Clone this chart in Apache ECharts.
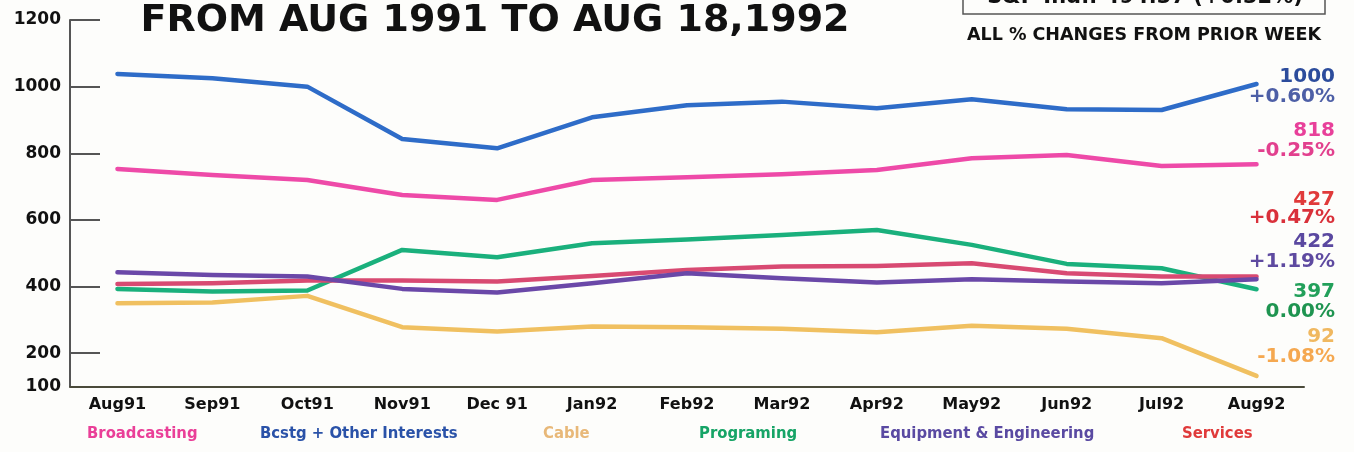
<!DOCTYPE html>
<html>
<head>
<meta charset="utf-8">
<script src="https://cdn.jsdelivr.net/npm/echarts@6/dist/echarts.min.js"></script>
<style>
  html, body { margin: 0; padding: 0; background: #fdfdfb; }
  #chart { width: 1354px; height: 452px; }
</style>
</head>
<body>
<div id="chart"></div>
<script>
// months on the x axis
let months = ['Aug91', 'Sep91', 'Oct91', 'Nov91', 'Dec 91', 'Jan92', 'Feb92',
  'Mar92', 'Apr92', 'May92', 'Jun92', 'Jul92', 'Aug92'];

// index values
let broadcasting = [753, 735, 720, 675, 660, 720, 728, 737, 750, 785, 795, 762, 767];
let bcstgOther   = [1038, 1025, 1000, 843, 815, 908, 944, 955, 935, 962, 932, 930, 1008];
let cable        = [350, 352, 372, 278, 265, 280, 278, 273, 263, 282, 273, 245, 132];
let programing   = [393, 385, 388, 510, 488, 530, 541, 555, 570, 525, 468, 455, 392];
let equipment    = [443, 435, 430, 393, 382, 410, 440, 425, 412, 422, 415, 410, 422];
let services     = [408, 410, 418, 418, 415, 432, 450, 460, 462, 470, 440, 430, 430];

let seriesNames = ['Broadcasting', 'Bcstg + Other Interests', 'Cable', 'Programing',
  'Equipment & Engineering', 'Services'];

// y axis labels
let yLabels = [100, 200, 400, 600, 800, 1000, 1200];

// right side readout: latest value + weekly change
let endValues  = ['1000', '818', '427', '422', '397', '92'];
let endChanges = ['+0.60%', '-0.25%', '+0.47%', '+1.19%', '0.00%', '-1.08%'];

let title = 'FROM AUG 1991 TO AUG 18,1992';
let subTitle = 'ALL % CHANGES FROM PRIOR WEEK';
let spText = 'S&P Ind.: 494.37 (+0.32%)';

let lineColors = ['#ee4aa8', '#2e6cc8', '#f0c060', '#1ab07c', '#6a48a8', '#d84a72'];
let legendColors = ['#ea3f98', '#2a52a8', '#e8b878', '#16a466', '#5a4aa2', '#e03a3a'];
let legendLeft = [82, 255, 538, 694, 875, 1177];

let endColors = [['#2c4c9c', '#4d5fa6'], ['#e8409a', '#e2408e'], ['#e03a3a', '#d9303a'],
  ['#5a48a0', '#5e4aa0'], ['#22a05a', '#1e9450'], ['#f0b860', '#f5a850']];
let endY = [[77, 97], [131, 151], [200, 218], [242, 262], [292, 312], [337, 357]];

let chart = echarts.init(document.getElementById('chart'));

let allData = [broadcasting, bcstgOther, cable, programing, equipment, services];
// draw order: back to front roughly like the print
let drawOrder = [0, 1, 2, 3, 5, 4];

let mySeries = drawOrder.map(function (i) {
  return {
    name: seriesNames[i],
    type: 'line',
    data: allData[i],
    symbol: 'none',
    lineStyle: { color: lineColors[i], width: 4.5, cap: 'round', join: 'round' },
    itemStyle: { color: lineColors[i] },
    z: 2
  };
});

let legends = seriesNames.map(function (n, i) {
  return {
    data: [{ name: n, textStyle: { color: legendColors[i] } }],
    left: legendLeft[i],
    top: 425,
    padding: 0,
    icon: 'none',
    itemWidth: 0,
    itemHeight: 0,
    selectedMode: false,
    textStyle: {
      fontFamily: '"DejaVu Sans Condensed", "Liberation Sans Narrow", sans-serif',
      fontWeight: 'bold',
      fontSize: 16.5
    }
  };
});

let graphics = [
  {
    type: 'text',
    style: {
      text: title, x: 495, y: 21,
      textAlign: 'center', textVerticalAlign: 'middle',
      font: 'bold 38px "DejaVu Sans"', fill: '#111'
    }
  },
  {
    type: 'rect',
    shape: { x: 963, y: -22, width: 362, height: 36 },
    style: { fill: '#fdfdfb', stroke: '#555', lineWidth: 1.5 }
  },
  {
    type: 'text',
    style: {
      text: spText, x: 1145, y: -2,
      textAlign: 'center', textVerticalAlign: 'middle',
      font: 'bold 21px "DejaVu Sans"', fill: '#111'
    }
  },
  {
    type: 'text',
    style: {
      text: subTitle, x: 1144, y: 35,
      textAlign: 'center', textVerticalAlign: 'middle',
      font: 'bold 17.5px "DejaVu Sans"', fill: '#111'
    }
  }
];

endValues.forEach(function (v, i) {
  graphics.push({
    type: 'text',
    style: {
      text: v, x: 1335, y: endY[i][0], textAlign: 'right', textVerticalAlign: 'middle',
      font: 'bold 20px "DejaVu Sans"', fill: endColors[i][0]
    }
  });
  graphics.push({
    type: 'text',
    style: {
      text: endChanges[i], x: 1335, y: endY[i][1], textAlign: 'right', textVerticalAlign: 'middle',
      font: 'bold 20px "DejaVu Sans"', fill: endColors[i][1]
    }
  });
});

chart.setOption({
  backgroundColor: '#fdfdfb',
  animation: false,
  grid: { left: 70, right: 50, top: 20, bottom: 65.5 },
  legend: legends,
  xAxis: {
    type: 'category',
    data: months,
    boundaryGap: true,
    axisLine: { lineStyle: { color: '#4a4a3a', width: 2 } },
    axisTick: { inside: true, length: 5, lineStyle: { color: '#333', width: 1.5 } },
    axisLabel: {
      color: '#111', fontFamily: 'DejaVu Sans', fontWeight: 'bold', fontSize: 16,
      margin: 10, interval: 0
    },
    splitLine: { show: false }
  },
  yAxis: {
    type: 'value',
    min: 100,
    max: 1200,
    axisLine: { show: true, lineStyle: { color: '#555', width: 2 } },
    axisTick: {
      show: true, inside: true, length: 30,
      customValues: yLabels.slice(1),
      lineStyle: { color: '#555', width: 2 }
    },
    axisLabel: {
      customValues: yLabels,
      formatter: function (v) { return String(v); },
      color: '#111', fontFamily: 'DejaVu Sans', fontWeight: 'bold', fontSize: 17,
      margin: 9
    },
    splitLine: { show: false }
  },
  graphic: graphics,
  series: mySeries
});
</script>
</body>
</html>
